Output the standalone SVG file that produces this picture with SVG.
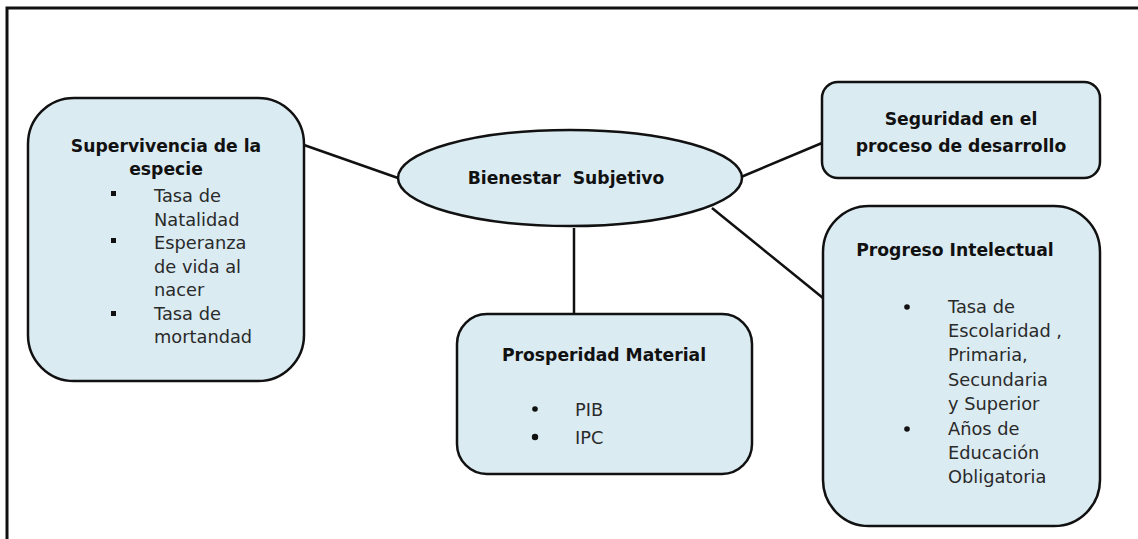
<svg xmlns="http://www.w3.org/2000/svg" width="1138" height="539" viewBox="0 0 1138 539">
<style>
.box{fill:#dbebf2;stroke:#111;stroke-width:2.5}
.t{font-family:"DejaVu Sans",sans-serif;font-size:17.8px;fill:#2a2a2a}
.b{font-family:"DejaVu Sans",sans-serif;font-size:17.2px;font-weight:bold;fill:#111}
.sq{fill:#111}
.conn line{stroke:#111;stroke-width:2.5}
</style>
<rect width="1138" height="539" fill="#fff"/>
<g id="frame" fill="none" stroke="#111" stroke-width="3">
<polyline points="7,539 7,8 1138,8"/>
</g>
<g class="conn" id="connectors">
<line x1="304" y1="145" x2="398" y2="178"/>
<line x1="741" y1="177" x2="822" y2="143"/>
<line x1="574" y1="228" x2="574" y2="314"/>
<line x1="712" y1="208" x2="823" y2="298"/>
</g>
<g id="supervivencia">
<rect class="box" x="28" y="98" width="276" height="283" rx="46"/>
<text class="b" x="166" y="152" text-anchor="middle">Supervivencia de la</text>
<text class="b" x="166" y="175" text-anchor="middle">especie</text>
<rect class="sq" x="111" y="191" width="5" height="5"/>
<rect class="sq" x="111" y="238" width="5" height="5"/>
<rect class="sq" x="111" y="311" width="5" height="5"/>
<text class="t" x="154" y="202">Tasa de</text>
<text class="t" x="154" y="225.5">Natalidad</text>
<text class="t" x="154" y="249">Esperanza</text>
<text class="t" x="154" y="272.5">de vida al</text>
<text class="t" x="154" y="296">nacer</text>
<text class="t" x="154" y="319.5">Tasa de</text>
<text class="t" x="154" y="343">mortandad</text>
</g>
<g id="bienestar">
<ellipse class="box" cx="570" cy="178" rx="172" ry="48"/>
<text class="b" x="566" y="184" text-anchor="middle" xml:space="preserve">Bienestar  Subjetivo</text>
</g>
<g id="seguridad">
<rect class="box" x="822" y="82" width="278" height="96" rx="16"/>
<text class="b" x="961" y="125" text-anchor="middle">Seguridad en el</text>
<text class="b" x="961" y="152" text-anchor="middle">proceso de desarrollo</text>
</g>
<g id="progreso">
<rect class="box" x="823" y="206" width="277" height="320" rx="46"/>
<text class="b" x="955" y="256" text-anchor="middle">Progreso Intelectual</text>
<circle class="sq" cx="907" cy="307" r="2.8"/>
<circle class="sq" cx="907" cy="429" r="2.8"/>
<text class="t" x="948" y="313">Tasa de</text>
<text class="t" x="948" y="337">Escolaridad ,</text>
<text class="t" x="948" y="361">Primaria,</text>
<text class="t" x="948" y="386">Secundaria</text>
<text class="t" x="948" y="410">y Superior</text>
<text class="t" x="948" y="435">Años de</text>
<text class="t" x="948" y="459">Educación</text>
<text class="t" x="948" y="483">Obligatoria</text>
</g>
<g id="prosperidad">
<rect class="box" x="457" y="314" width="295" height="160" rx="30"/>
<text class="b" x="604" y="361" text-anchor="middle">Prosperidad Material</text>
<circle class="sq" cx="535" cy="409" r="2.8"/>
<circle class="sq" cx="535" cy="437" r="3.2"/>
<text class="t" x="575" y="416">PIB</text>
<text class="t" x="575" y="444">IPC</text>
</g>
</svg>
